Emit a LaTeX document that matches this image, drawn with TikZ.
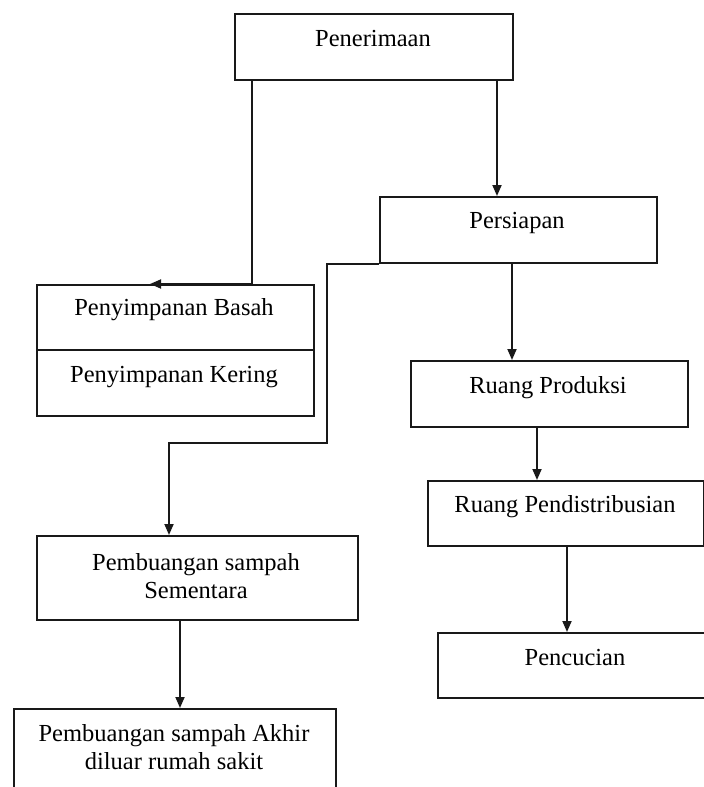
\documentclass[tikz,border=0pt]{standalone}
\usepackage{fontspec}
\setmainfont{Liberation Serif}
\usetikzlibrary{arrows.meta}
\begin{document}
\begin{tikzpicture}[x=1pt,y=-1pt,
  box/.style={draw=black!90, line width=1.8pt, rectangle, inner sep=0pt, anchor=north west},
  lbl/.style={font=\fontsize{24.5}{28}\selectfont, inner sep=0pt, text=black, align=center},
  arr/.style={draw=black!90, line width=1.8pt, -{Triangle[length=11pt,width=9pt]}}]
\useasboundingbox (0,0) rectangle (704,787);
\clip (0,0) rectangle (704,787);
% boxes
\node[box, minimum width=278pt, minimum height=66pt] (pen) at (234,13) {};
\node[box, minimum width=277pt, minimum height=66pt] (per) at (379,196) {};
\node[box, minimum width=277pt, minimum height=65pt] (basah) at (36,284) {};
\node[box, minimum width=277pt, minimum height=66pt] (kering) at (36,349) {};
\node[box, minimum width=277pt, minimum height=66pt] (prod) at (410,360) {};
\node[box, minimum width=276pt, minimum height=65pt] (dist) at (427,480) {};
\node[box, minimum width=321pt, minimum height=84pt] (sem) at (36,535) {};
\node[box, minimum width=300pt, minimum height=65pt] (cuci) at (437,632) {};
\node[box, minimum width=322pt, minimum height=110pt] (akhir) at (13,708) {};
% labels
\node[lbl, anchor=base] (penT) at (373,46) {Penerimaan};
\node[lbl, anchor=base] (perT) at (517,228) {Persiapan};
\node[lbl, anchor=base] (basahT) at (174,315) {Penyimpanan Basah};
\node[lbl, anchor=base] (keringT) at (174,382) {Penyimpanan Kering};
\node[lbl, anchor=base] (prodT) at (548,393) {Ruang Produksi};
\node[lbl, anchor=base] (distT) at (565,512) {Ruang Pendistribusian};
\node[lbl] (semT) at (196,576) {Pembuangan sampah\\Sementara};
\node[lbl, anchor=base] (cuciT) at (575,665) {Pencucian};
\node[lbl] (akhirT) at (174,747) {Pembuangan sampah Akhir\\diluar rumah sakit};
% connector guides
\coordinate (xa) at (252,0);
\coordinate (xb) at (150,0);
\coordinate (xc) at (497,0);
\coordinate (xd) at (512,0);
\coordinate (xe) at (537,0);
\coordinate (xf) at (567,0);
\coordinate (xg) at (180,0);
\coordinate (j1) at (327,443);
\coordinate (j2) at (169,443);
% connectors
\draw[arr] (pen.south -| xa) |- (basah.north -| xb);
\draw[arr] (pen.south -| xc) -- (per.north -| xc);
\draw[arr] (per.south west) -| (j1) -- (j2) -- (sem.north -| j2);
\draw[arr] (per.south -| xd) -- (prod.north -| xd);
\draw[arr] (prod.south -| xe) -- (dist.north -| xe);
\draw[arr] (dist.south -| xf) -- (cuci.north -| xf);
\draw[arr] (sem.south -| xg) -- (akhir.north -| xg);
\end{tikzpicture}
\end{document}
